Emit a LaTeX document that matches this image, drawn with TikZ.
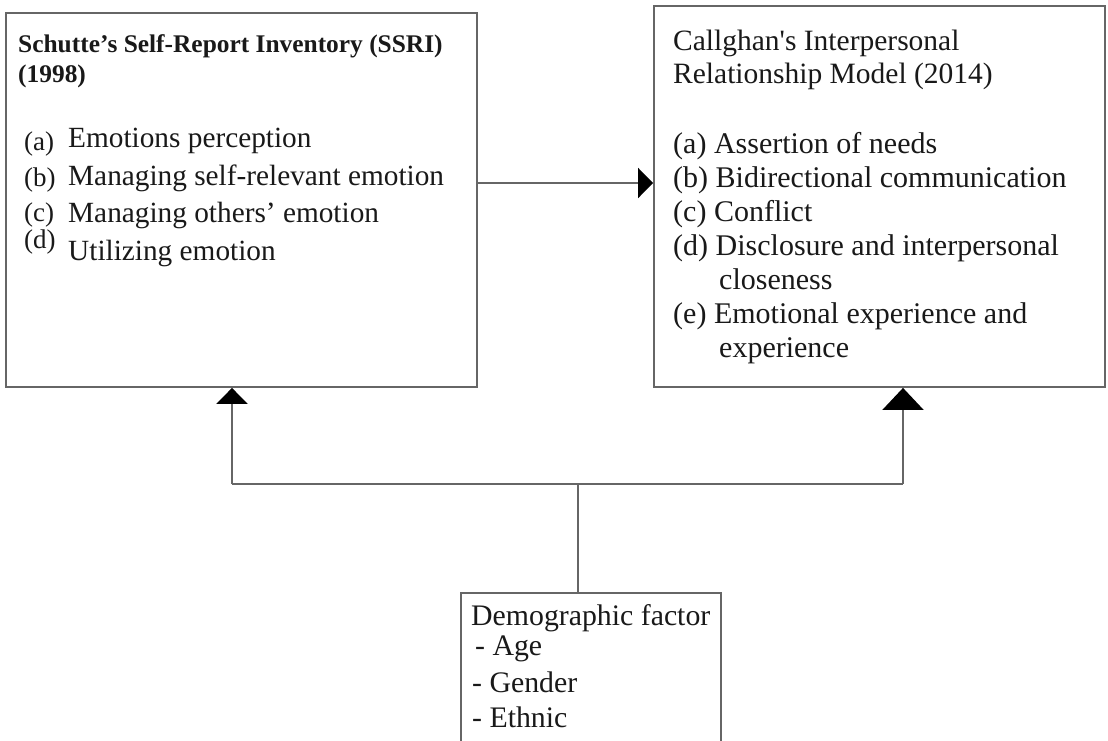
\documentclass[tikz,border=0pt]{standalone}
\usepackage{fontspec}
\setmainfont{Liberation Serif}
\usetikzlibrary{arrows.meta}
\newcommand\myfs[1]{\fontsize{#1}{#1}\selectfont}
\begin{document}
\begin{tikzpicture}[x=1pt,y=-1pt,
  box/.style={draw=black!60,line width=1.8pt,rectangle,inner sep=0pt},
  txt/.style={anchor=base west,inner sep=0pt,text=black!90},
  conn/.style={draw=black!60,line width=1.6pt},
  tipA/.style={-{Triangle[width=30pt,length=15pt,black]}},
  tipB/.style={-{Triangle[width=31pt,length=16pt,black]}},
  tipC/.style={-{Triangle[width=41pt,length=22pt,black]}}]
\useasboundingbox (0,0) rectangle (1108,740);
\clip (0,0) rectangle (1108,740);
\fill[white] (0,0) rectangle (1108,740);
% boxes
\node[box,minimum width=471pt,minimum height=374pt] (L) at (241.5,200) {};
\node[box,minimum width=451pt,minimum height=381pt] (R) at (879.5,196.5) {};
\node[box,minimum width=260pt,minimum height=160pt] (D) at (591,673) {};
% left text
\node[txt,font=\bfseries\myfs{25.4}] (lt1) at (18,52) {Schutte’s Self-Report Inventory (SSRI)};
\node[txt,font=\bfseries\myfs{25.4}] (lt2) at (18,82) {(1998)};
\node[txt,font=\myfs{27}] (la) at (24,150) {(a)};
\node[txt,font=\myfs{29.3}] (la2) at (68,147) {Emotions perception};
\node[txt,font=\myfs{27}] (lb) at (24,186) {(b)};
\node[txt,font=\myfs{29.3}] (lb2) at (68,185) {Managing self-relevant emotion};
\node[txt,font=\myfs{27}] (lc) at (24,221) {(c)};
\node[txt,font=\myfs{29.3}] (lc2) at (68,222) {Managing others’ emotion};
\node[txt,font=\myfs{27}] (ld) at (24,248) {(d)};
\node[txt,font=\myfs{29.3}] (ld2) at (68,260) {Utilizing emotion};
% right text
\node[txt,font=\myfs{29.5}] (rt1) at (673,50) {Callghan\textquotesingle s Interpersonal};
\node[txt,font=\myfs{29.5}] (rt2) at (673,83) {Relationship Model (2014)};
\node[txt,font=\myfs{30}] (ra) at (673,153) {(a) Assertion of needs};
\node[txt,font=\myfs{30}] (rb) at (673,187) {(b) Bidirectional communication};
\node[txt,font=\myfs{30}] (rc) at (673,221) {(c) Conflict};
\node[txt,font=\myfs{30}] (rd) at (673,255) {(d) Disclosure and interpersonal};
\node[txt,font=\myfs{30}] (rd2) at (719,289) {closeness};
\node[txt,font=\myfs{30}] (re) at (673,323) {(e) Emotional experience and};
\node[txt,font=\myfs{30}] (re2) at (719,357) {experience};
% bottom text
\node[txt,font=\myfs{29.8}] (d0) at (471,625) {Demographic factor};
\node[txt,font=\myfs{29.8}] (d1) at (475,655) {- Age};
\node[txt,font=\myfs{29.8}] (d2) at (472,692) {- Gender};
\node[txt,font=\myfs{29.8}] (d3) at (472,727) {- Ethnic};
% connectors
\coordinate (J) at (578,484);
\coordinate (JL) at (232,484);
\coordinate (JR) at (903,484);
\draw[conn,tipA] (L.east |- 0,183) -- (R.west |- 0,183);
\draw[conn] (D.north -| J) -- (J);
\draw[conn] (JL) -- (JR);
\draw[conn,tipB] (JL) -- (L.south -| JL);
\draw[conn,tipC] (JR) -- (R.south -| JR);
\end{tikzpicture}
\end{document}
